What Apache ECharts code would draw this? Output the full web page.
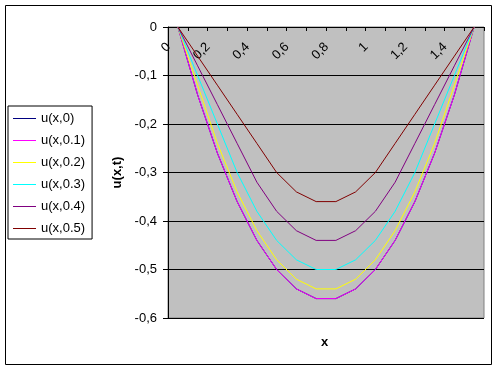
<!DOCTYPE html>
<html>
<head>
<meta charset="utf-8">
<script src="https://cdn.jsdelivr.net/npm/echarts@6/dist/echarts.min.js"></script>
<style>
html,body{margin:0;padding:0;background:#fff;}
#c{width:500px;height:371px;}
</style>
</head>
<body>
<div id="c"></div>
<script>
var categories = ['0','0,1','0,2','0,3','0,4','0,5','0,6','0,7','0,8','0,9','1','1,1','1,2','1,3','1,4','1,5'];
var seriesNames = ['u(x,0)','u(x,0.1)','u(x,0.2)','u(x,0.3)','u(x,0.4)','u(x,0.5)'];
var u0  = [0,-0.14,-0.26,-0.36,-0.44,-0.50,-0.54,-0.56,-0.56,-0.54,-0.50,-0.44,-0.36,-0.26,-0.14,0];
var u01 = [0,-0.14,-0.26,-0.36,-0.44,-0.50,-0.54,-0.56,-0.56,-0.54,-0.50,-0.44,-0.36,-0.26,-0.14,0];
var u02 = [0,-0.12,-0.24,-0.34,-0.42,-0.48,-0.52,-0.54,-0.54,-0.52,-0.48,-0.42,-0.34,-0.24,-0.12,0];
var u03 = [0,-0.10,-0.20,-0.30,-0.38,-0.44,-0.48,-0.50,-0.50,-0.48,-0.44,-0.38,-0.30,-0.20,-0.10,0];
var u04 = [0,-0.08,-0.16,-0.24,-0.32,-0.38,-0.42,-0.44,-0.44,-0.42,-0.38,-0.32,-0.24,-0.16,-0.08,0];
var u05 = [0,-0.06,-0.12,-0.18,-0.24,-0.30,-0.34,-0.36,-0.36,-0.34,-0.30,-0.24,-0.18,-0.12,-0.06,0];
var yMin = -0.6, yMax = 0, yStep = 0.1;
var xTitle = 'x', yTitle = 'u(x,t)';

var colors = ['#000080','#ff00ff','#ffff00','#00ffff','#800080','#800000'];
var allData = [u0, u01, u02, u03, u04, u05];
var FONT = 'Liberation Sans, Arial, sans-serif';

var chart = echarts.init(document.getElementById('c'), null, {renderer:'canvas'});
chart.setOption({
  backgroundColor: '#ffffff',
  animation: false,
  color: colors,
  title: {
    text: xTitle, left: 321, top: 336, padding: 0,
    textStyle: {fontFamily: FONT, fontSize: 13, fontWeight: 'bold', color: '#000'}
  },
  graphic: [{
    type: 'rect', z: -1, silent: true,
    shape: {x: 5.5, y: 5.5, width: 486, height: 359},
    style: {fill: 'none', stroke: '#000', lineWidth: 1}
  }],
  legend: {
    orient: 'vertical', left: 8, top: 106,
    padding: [6, 7, 4, 5],
    icon: 'rect',
    itemWidth: 23, itemHeight: 1, itemGap: 9, itemNameGap: 5,
    backgroundColor: '#fff', borderColor: '#000', borderWidth: 1, borderRadius: 0,
    textStyle: {fontFamily: FONT, fontSize: 13, color: '#000'},
    data: seriesNames
  },
  grid: {
    left: 168, top: 27, right: 16, bottom: 53,
    show: true, backgroundColor: '#c0c0c0', borderColor: '#808080', borderWidth: 1,
    containLabel: false, outerBoundsMode: 'none'
  },
  xAxis: {
    type: 'category', position: 'top', data: categories, boundaryGap: true,
    axisLine: {onZero: false, lineStyle: {color: '#000', width: 1}},
    axisTick: {show: true, inside: true, length: 4, interval: 0, lineStyle: {color: '#000'}},
    axisLabel: {
      inside: true, rotate: -45, interval: 1, margin: 27,
      align: 'right', verticalAlign: 'bottom', lineHeight: 26,
      fontFamily: FONT, fontSize: 13, color: '#000'
    },
    splitLine: {show: false}
  },
  yAxis: {
    type: 'value', min: yMin, max: yMax, interval: yStep,
    name: yTitle, nameLocation: 'middle', nameGap: 43,
    nameTextStyle: {fontFamily: FONT, fontSize: 13, fontWeight: 'bold', color: '#000'},
    axisLine: {show: true, lineStyle: {color: '#000', width: 1}},
    axisTick: {show: true, length: 5, lineStyle: {color: '#000'}},
    axisLabel: {
      margin: 11, fontFamily: FONT, fontSize: 13, color: '#000',
      formatter: function (v) { return String(Math.round(v * 10) / 10).replace('.', ','); }
    },
    splitLine: {show: true, lineStyle: {color: '#000', width: 1}}
  },
  series: seriesNames.map(function (n, i) {
    return {
      name: n, type: 'line', data: allData[i], symbol: 'none',
      lineStyle: {width: 1, color: colors[i]}, itemStyle: {color: colors[i]}
    };
  })
});
</script>
</body>
</html>
